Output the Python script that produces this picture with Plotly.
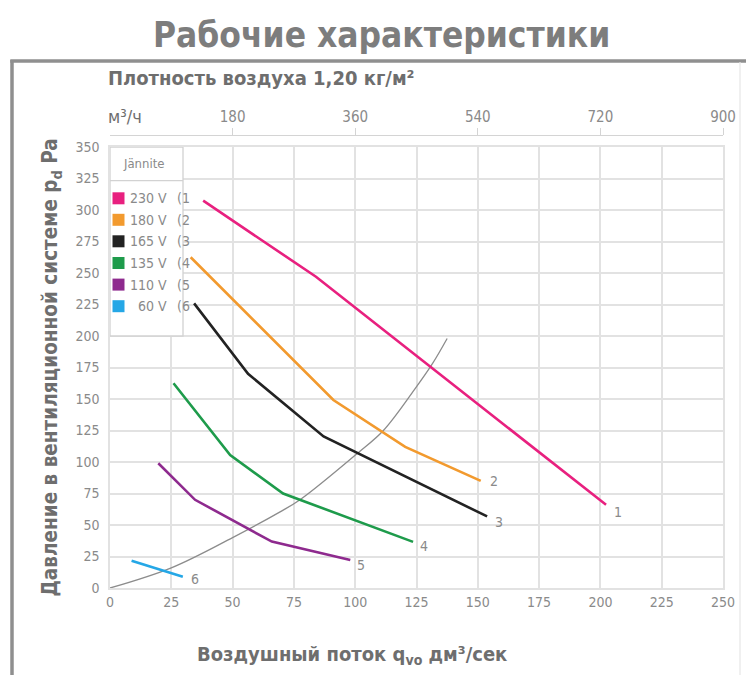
import plotly.graph_objects as go

# ---- axis ticks -------------------------------------------------------
flow_ticks = list(range(0, 251, 25))          # dm³/s
pressure_ticks = list(range(0, 351, 25))      # Pa
m3h_ticks = [0, 180, 360, 540, 720, 900]      # m³/h
m3h_labels = ["м³/ч", "180", "360", "540", "720", "900"]

# ---- fan curves: flow (dm³/s) / pressure (Pa) ----------------------------
curve_names = ["230 V", "180 V", "165 V", "135 V", "110 V", "60 V"]
curve_ids = ["1", "2", "3", "4", "5", "6"]
curve_colors = ["#E8207F", "#F29A2E", "#222222", "#1E9B4B", "#8E2A8E", "#25A7E6"]

q1 = [38, 84, 202.3]
p1 = [307.4, 247, 66]
q2 = [32.9, 91.1, 120.4, 151.2]
p2 = [262.5, 149.2, 112, 85]
q3 = [34.3, 56.3, 87.1, 153.8]
p3 = [225.9, 170, 120.3, 56.8]
q4 = [25.9, 49, 70.6, 123.6]
p4 = [162.5, 105.5, 75, 36.6]
q5 = [19.7, 34.7, 66, 98]
p5 = [99, 70, 36.8, 22.2]
q6 = [8.8, 29.7]
p6 = [21.7, 9]

flows = [q1, q2, q3, q4, q5, q6]
pressures = [p1, p2, p3, p4, p5, p6]

# ---- system (duct) characteristic ---------------------------------------
q_sys = [0, 25, 50, 69, 77.5, 101, 111.5, 124, 131.5, 137.5]
p_sys = [0, 16, 40, 60, 70, 107, 125, 157, 178, 198]

# ---- page geometry --------------------------------------------------------
W, H = 746, 675
L, R, T, B = 110, 23, 135, 87
PW, PH = W - L - R, H - T - B
PLOT_TOP = 147


def px(x):
    return (x - L) / PW


def py(y):
    return (H - B - y) / PH


def dx(x):
    return (x - L) / PW * 250


def dy(y):
    return (H - B - y) / (H - B - PLOT_TOP) * 350


FONT = "Liberation Sans Narrow, DejaVu Sans Condensed, sans-serif"
TXT = "#8a8a8a"
DARK = "#6e6e6e"
GRID = "#e2e2e2"

fig = go.Figure()

# duct characteristic
fig.add_trace(go.Scatter(
    x=q_sys, y=p_sys, mode="lines", line=dict(color="#8c8c8c", width=1.3, shape="spline"),
    showlegend=False, hoverinfo="skip"))

# fan curves
label_shift = [(12, -7), (13, 0), (12, -6), (11, -4), (11, -5), (12, -2)]
for q, p, name, cid, col, (sx, sy) in zip(flows, pressures, curve_names, curve_ids,
                                           curve_colors, label_shift):
    fig.add_trace(go.Scatter(x=q, y=p, mode="lines", name=name,
                             line=dict(color=col, width=2.6), showlegend=False))
    fig.add_annotation(x=q[-1], y=p[-1], text=cid, showarrow=False,
                       xanchor="center", yanchor="middle", xshift=sx, yshift=sy,
                       font=dict(family=FONT, size=14, color=TXT))

# invisible trace that carries the m³/h scale on the top axis
fig.add_trace(go.Scatter(x=[0, 900], y=[0, 0], xaxis="x2", mode="lines",
                         line=dict(width=0), opacity=0, showlegend=False,
                         hoverinfo="skip"))

axis_common = dict(showgrid=True, gridcolor=GRID, gridwidth=1.5, zeroline=False,
                   showline=True, linecolor=GRID, linewidth=1.5, mirror=True,
                   ticks="", automargin=False,
                   tickfont=dict(family=FONT, size=14, color=TXT))

fig.update_layout(
    width=W, height=H, autosize=False,
    margin=dict(l=L, r=R, t=T, b=B),
    paper_bgcolor="white", plot_bgcolor="white",
    showlegend=False,
    xaxis=dict(range=[0, 250], tickvals=flow_ticks, domain=[0, 1], **axis_common),
    yaxis=dict(range=[0, 350], tickvals=pressure_ticks, domain=[0, py(PLOT_TOP)],
               ticklabelstandoff=6,
               title=dict(text="Давление в вентиляционной системе p<sub>d</sub> Pa", standoff=12,
                          font=dict(family=FONT, size=20.5, color=DARK, weight="bold")),
               **axis_common),
    xaxis2=dict(range=[0, 900], tickvals=m3h_ticks[1:], ticktext=m3h_labels[1:],
                overlaying="x", side="top", anchor="free", position=1,
                showgrid=False, zeroline=False, showline=True, linecolor="#d4d4d4",
                linewidth=1.3, ticks="outside", ticklen=7, tickcolor="#d4d4d4",
                automargin=False, tickfont=dict(family=FONT, size=15, color=TXT)),
)

shapes = []
# outer frame
frame = "#8f8f8f"
shapes.append(dict(type="line", xref="paper", yref="paper", x0=px(12), x1=px(12),
                   y0=py(60), y1=py(H + 5), line=dict(color=frame, width=3.5)))
shapes.append(dict(type="line", xref="paper", yref="paper", x0=px(10.3), x1=px(W + 5),
                   y0=py(61), y1=py(61), line=dict(color=frame, width=3.5)))
shapes.append(dict(type="line", xref="paper", yref="paper", x0=px(740), x1=px(740),
                   y0=py(62), y1=py(H + 5), line=dict(color="#e6e6e6", width=1.2)))

# voltage key box
box = "#d2d2d2"
shapes.append(dict(type="rect", xref="x", yref="y", x0=0, x1=dx(183), y0=200, y1=350,
                   layer="between", fillcolor="white", line=dict(color=box, width=1.3)))
shapes.append(dict(type="line", xref="x", yref="y", x0=0, x1=dx(183),
                   y0=dy(180.7), y1=dy(180.7), layer="between",
                   line=dict(color=box, width=1.3)))
annotations = [
    dict(x=px(121), y=py(163), xref="paper", yref="paper", text="Jännite",
         showarrow=False, xanchor="left", yanchor="middle",
         font=dict(family=FONT, size=13, color=TXT)),
]
row_y = [198.3, 219.8, 241.3, 263, 284.6, 306.2]
for name, cid, col, ry in zip(curve_names, curve_ids, curve_colors, row_y):
    shapes.append(dict(type="rect", xref="paper", yref="paper",
                       x0=px(112.5), x1=px(124.5), y0=py(ry + 6), y1=py(ry - 6),
                       fillcolor=col, line=dict(width=0)))
    annotations.append(dict(x=px(168.5), y=py(ry), xref="paper", yref="paper", text=name,
                            showarrow=False, xanchor="right", yanchor="middle",
                            font=dict(family=FONT, size=14, color=TXT)))
    annotations.append(dict(x=px(174.5), y=py(ry), xref="paper", yref="paper",
                            text="(" + cid, showarrow=False, xanchor="left",
                            yanchor="middle", font=dict(family=FONT, size=14, color=TXT)))

# unit label at the start of the m³/h scale
annotations.append(dict(x=px(106), y=py(116), xref="paper", yref="paper",
                        text=m3h_labels[0], showarrow=False, xanchor="left",
                        yanchor="middle",
                        font=dict(family=FONT, size=18, color=DARK)))

# headings
annotations.append(dict(x=px(381), y=py(35), xref="paper", yref="paper",
                        text="Рабочие характеристики", showarrow=False,
                        xanchor="center", yanchor="middle",
                        font=dict(family=FONT, size=35, color="#7d7d7d", weight="bold")))
annotations.append(dict(x=px(106), y=py(78), xref="paper", yref="paper",
                        text="Плотность воздуха 1,20 кг/м²", showarrow=False,
                        xanchor="left", yanchor="middle",
                        font=dict(family=FONT, size=20, color=DARK, weight="bold")))
annotations.append(dict(x=px(352), y=py(655), xref="paper", yref="paper",
                        text="Воздушный поток q<sub>vo</sub> дм³/сек", showarrow=False,
                        xanchor="center", yanchor="middle",
                        font=dict(family=FONT, size=20, color=DARK, weight="bold")))

for a in annotations:
    fig.add_annotation(**a)
fig.update_layout(shapes=shapes)

fig.write_html("out.html")
